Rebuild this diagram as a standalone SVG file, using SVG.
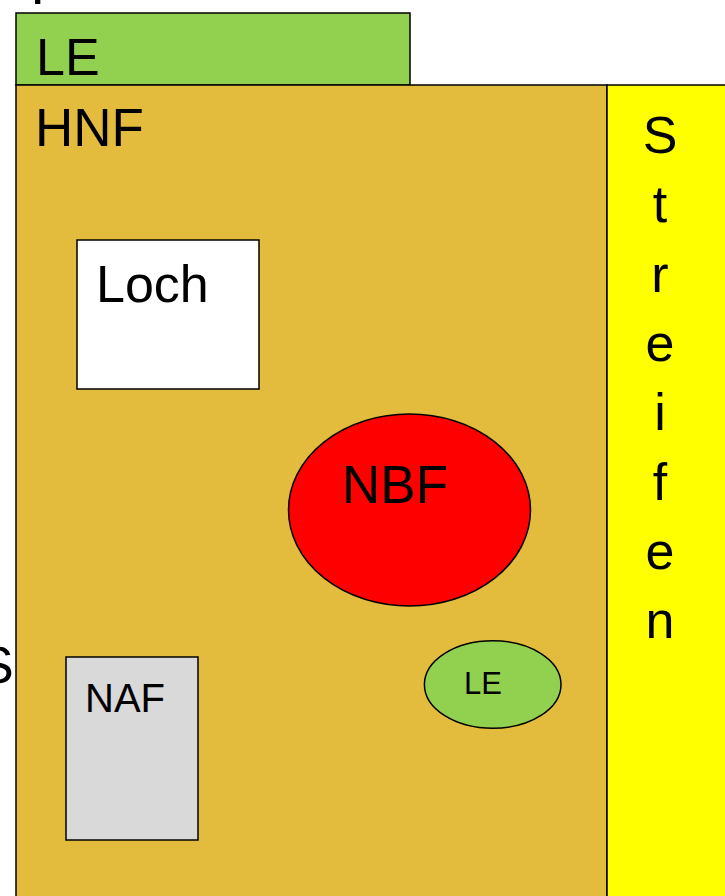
<svg xmlns="http://www.w3.org/2000/svg" width="725" height="896" viewBox="0 0 725 896">
<style>
.s{stroke:#000;stroke-width:1.5}
.t{font-family:"Liberation Sans",Arial,sans-serif;fill:#000}
</style>
<rect width="725" height="896" fill="#fff"/>
<text class="t" x="-21" y="683" font-size="52">S</text>
<text class="t" x="31" y="-8.5" font-size="60">p</text>
<g id="le-top"><rect class="s" x="16" y="13" width="394" height="72" fill="#92d050"/><text class="t" x="36" y="75" font-size="52">LE</text></g>
<g id="hnf"><rect class="s" x="16" y="85" width="591" height="820" fill="#e3bc3e"/><text class="t" x="35" y="146" font-size="53">HNF</text></g>
<g id="streifen"><rect class="s" x="607" y="85" width="130" height="820" fill="#ffff00"/>
<g class="t" font-size="52" text-anchor="middle">
<text x="660" y="153">S</text><text x="660" y="222">t</text><text x="660" y="292">r</text><text x="660" y="361">e</text><text x="660" y="430">i</text><text x="660" y="500">f</text><text x="660" y="569">e</text><text x="660" y="638">n</text>
</g></g>
<g id="loch"><rect class="s" x="77" y="240" width="182" height="149" fill="#fff"/><text class="t" x="96" y="302" font-size="52">Loch</text></g>
<g id="nbf"><ellipse class="s" cx="409.5" cy="510" rx="121" ry="96" fill="#ff0000"/><text class="t" x="342" y="503" font-size="53">NBF</text></g>
<g id="le-small"><ellipse class="s" cx="492.7" cy="684.5" rx="68.3" ry="43.8" fill="#92d050"/><text class="t" x="464" y="694" font-size="31">LE</text></g>
<g id="naf"><rect class="s" x="66" y="657" width="132" height="183" fill="#d9d9d9"/><text class="t" x="85" y="712" font-size="40">NAF</text></g>
<g id="connectors"/>
</svg>
